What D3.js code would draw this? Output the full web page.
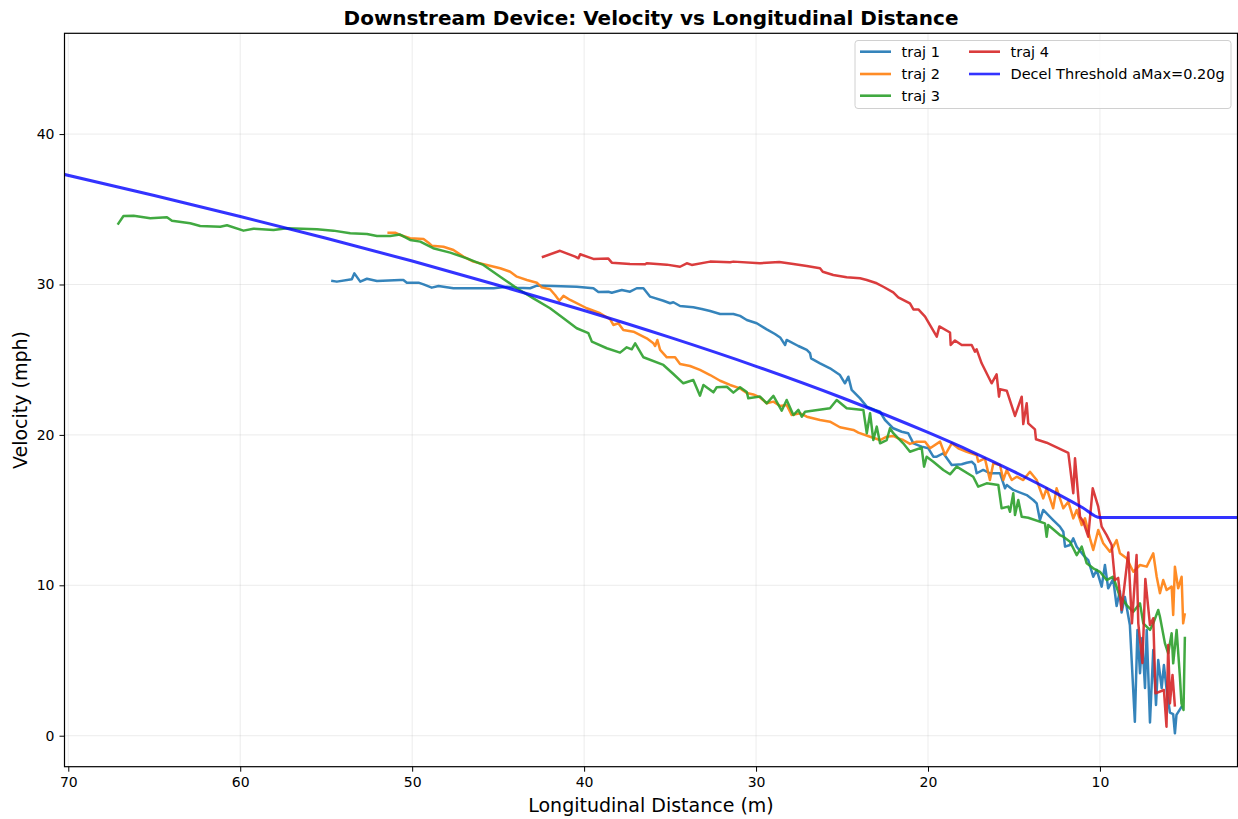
<!DOCTYPE html>
<html>
<head>
<meta charset="utf-8">
<script src="https://cdn.jsdelivr.net/npm/d3@7"></script>
<style>
  html, body { margin: 0; padding: 0; background: #fff; }
  svg text { font-family: "DejaVu Sans", sans-serif; fill: #000; }
</style>
</head>
<body>
<svg id="chart" width="1238" height="819"></svg>
<script>
// ---- data: [longitudinal distance (m), velocity (mph)] ----
const traj1 = [[54.71,30.25],[54.38,30.19],[53.51,30.35],[53.36,30.74],[53.02,30.19],[52.63,30.38],[52.05,30.23],[50.70,30.30],[50.51,30.30],[50.31,30.12],[49.63,30.12],[49.34,30.01],[48.86,29.79],[48.47,29.90],[47.60,29.75],[46.82,29.75],[45.27,29.75],[44.49,29.85],[43.91,29.79],[43.14,29.75],[42.75,29.93],[41.78,29.90],[40.43,29.85],[39.46,29.75],[39.17,29.50],[38.59,29.52],[38.39,29.45],[37.81,29.63],[37.33,29.52],[36.94,29.75],[36.55,29.75],[36.16,29.19],[35.39,28.92],[35.00,28.75],[34.81,28.82],[34.42,28.57],[33.65,28.48],[33.16,28.37],[32.67,28.24],[32.09,28.04],[31.32,28.04],[30.93,27.91],[30.54,27.64],[29.96,27.42],[29.38,27.02],[28.90,26.71],[28.60,26.48],[28.31,25.98],[28.22,26.31],[27.54,25.91],[27.05,25.65],[26.86,25.43],[26.80,25.09],[26.28,24.76],[25.70,24.43],[25.12,23.98],[24.83,23.43],[24.63,23.87],[24.44,22.99],[23.95,22.43],[23.56,21.88],[23.08,21.66],[22.79,21.54],[22.50,20.99],[22.02,20.44],[21.53,20.21],[21.15,20.11],[20.85,19.44],[20.37,19.22],[19.98,19.11],[19.69,18.55],[19.49,18.55],[19.11,18.78],[18.62,18.00],[18.04,18.05],[17.75,18.15],[17.46,18.22],[17.27,18.00],[17.17,17.45],[16.79,17.67],[16.40,17.45],[15.81,17.45],[15.52,16.45],[15.42,16.67],[15.04,16.34],[14.26,16.00],[13.88,15.67],[13.68,15.45],[13.49,14.34],[13.30,15.01],[12.72,14.34],[12.33,13.90],[12.13,13.56],[12.03,12.57],[11.74,12.68],[11.55,13.12],[11.35,12.57],[10.97,12.01],[10.68,11.68],[10.39,10.57],[10.19,11.02],[9.90,9.91],[9.71,11.35],[9.52,9.80],[9.23,10.42],[9.03,8.62],[8.84,9.62],[8.74,8.19],[8.55,9.22],[8.26,7.36],[7.97,0.93],[7.82,7.03],[7.67,4.15],[7.54,6.50],[7.38,3.17],[7.28,7.03],[7.09,0.88],[6.90,5.70],[6.74,2.04],[6.61,5.03],[6.41,3.17],[6.28,4.70],[6.12,3.04],[5.93,1.54],[5.74,1.44],[5.64,0.16],[5.55,1.38],[5.23,1.97]];

const traj2 = [[51.44,33.44],[50.99,33.44],[50.70,33.29],[50.12,33.07],[49.34,33.03],[49.05,32.78],[48.86,32.58],[48.18,32.51],[47.60,32.29],[47.02,31.85],[46.44,31.52],[45.66,31.30],[44.88,31.08],[44.30,30.85],[43.91,30.52],[43.33,30.30],[42.75,30.12],[42.46,29.81],[41.98,29.68],[41.69,29.30],[41.44,28.92],[41.20,29.24],[40.81,28.97],[39.84,28.42],[39.07,28.09],[38.49,27.69],[38.30,27.31],[38.01,27.42],[37.72,26.97],[37.13,26.86],[36.36,26.42],[35.97,26.09],[35.87,25.91],[35.74,26.31],[35.58,25.65],[35.19,25.16],[34.71,25.16],[34.42,24.71],[33.84,24.58],[33.26,24.32],[32.67,23.98],[32.09,23.60],[31.51,23.32],[30.93,23.09],[30.54,22.79],[30.16,22.69],[29.77,22.49],[29.38,22.10],[28.99,22.21],[28.60,21.92],[28.22,21.99],[27.93,21.32],[27.44,21.44],[27.05,21.21],[26.28,20.99],[25.70,20.88],[25.12,20.51],[24.34,20.33],[24.05,20.15],[23.37,19.88],[22.79,19.66],[22.40,19.88],[22.02,19.93],[21.73,19.77],[21.44,19.66],[21.05,19.40],[20.66,19.55],[20.17,19.55],[19.88,19.11],[19.30,19.55],[19.01,18.66],[18.62,19.44],[18.24,19.11],[17.75,18.88],[17.17,18.66],[17.08,18.22],[16.69,18.44],[16.40,17.00],[16.20,18.11],[15.81,18.00],[15.62,17.00],[15.42,17.67],[15.13,17.00],[14.84,17.22],[14.46,17.00],[14.07,17.55],[13.68,17.00],[13.30,15.78],[13.10,16.45],[12.72,15.12],[12.52,16.45],[12.13,15.12],[11.84,15.56],[11.55,14.45],[11.35,15.01],[11.06,14.01],[10.87,14.45],[10.58,13.12],[10.39,12.35],[10.10,13.68],[9.81,12.79],[9.42,12.23],[9.23,12.57],[9.03,13.01],[8.84,12.13],[8.45,11.80],[8.06,10.90],[7.67,11.35],[7.28,11.24],[6.90,12.13],[6.70,10.57],[6.51,9.47],[6.32,10.35],[6.12,9.69],[5.83,9.91],[5.74,8.03],[5.64,11.24],[5.45,9.80],[5.25,10.57],[5.16,7.47],[5.06,8.14]];

const traj3 = [[67.13,33.98],[66.79,34.55],[66.20,34.57],[65.23,34.40],[64.26,34.47],[63.97,34.24],[62.91,34.07],[62.33,33.89],[61.16,33.84],[60.77,33.94],[59.81,33.58],[59.23,33.71],[58.06,33.62],[57.29,33.74],[55.54,33.67],[54.58,33.58],[53.60,33.40],[52.63,33.36],[52.05,33.22],[51.28,33.22],[50.70,33.32],[50.12,32.96],[49.53,32.85],[48.78,32.41],[47.79,32.12],[46.82,31.74],[45.86,31.30],[44.88,30.52],[43.91,29.75],[42.95,29.08],[41.98,28.42],[41.20,27.75],[40.43,27.09],[39.75,26.76],[39.55,26.20],[38.68,25.76],[37.91,25.47],[37.52,25.82],[37.23,25.69],[37.03,26.09],[36.55,25.16],[35.39,24.65],[34.81,24.05],[34.23,23.43],[33.65,23.65],[33.26,22.61],[33.06,23.32],[32.48,22.83],[32.29,23.17],[31.70,23.20],[31.32,22.81],[30.93,23.17],[30.54,22.85],[30.45,22.43],[29.77,22.55],[29.38,22.10],[28.99,22.59],[28.51,21.61],[28.22,22.32],[27.83,21.32],[27.54,21.66],[27.34,21.21],[27.15,21.54],[25.70,21.77],[25.31,22.32],[24.73,21.77],[23.76,21.66],[23.56,20.11],[23.37,21.44],[23.18,19.66],[22.98,20.55],[22.79,19.44],[22.40,19.66],[22.21,20.44],[22.02,20.11],[21.44,19.44],[21.05,18.88],[20.37,19.15],[20.23,17.89],[20.08,18.55],[19.69,18.22],[19.11,17.67],[18.72,17.38],[18.33,17.89],[17.37,17.22],[17.08,16.56],[16.59,16.78],[15.91,16.67],[15.72,15.12],[15.33,15.23],[15.23,14.89],[15.04,16.12],[14.94,14.67],[14.75,15.67],[14.55,14.56],[14.17,14.49],[13.20,14.12],[13.10,13.23],[13.01,14.01],[12.33,13.34],[12.13,13.23],[11.74,12.90],[11.35,12.01],[11.06,12.57],[10.77,11.46],[10.39,11.13],[10.00,10.90],[9.61,10.35],[9.23,10.57],[8.84,9.24],[8.65,9.02],[8.45,8.69],[8.06,8.24],[7.67,8.80],[7.48,7.47],[7.09,7.03],[6.90,7.47],[6.61,8.36],[6.51,7.91],[6.22,6.14],[6.03,5.48],[5.83,6.81],[5.74,4.81],[5.54,7.03],[5.35,3.92],[5.26,2.15],[5.14,1.71],[5.06,6.58]];

const traj4 = [[42.46,31.81],[41.40,32.24],[40.52,31.85],[40.33,31.74],[40.23,32.01],[39.46,31.70],[38.59,31.72],[38.39,31.45],[37.33,31.36],[36.45,31.34],[36.36,31.41],[35.19,31.32],[34.42,31.18],[34.03,31.41],[33.74,31.30],[32.67,31.52],[31.51,31.48],[31.32,31.52],[29.77,31.41],[29.38,31.45],[28.65,31.50],[27.83,31.36],[27.05,31.23],[26.28,31.08],[26.12,30.85],[25.51,30.63],[24.73,30.48],[23.95,30.41],[23.56,30.30],[22.98,30.08],[22.60,29.85],[22.02,29.48],[21.73,29.15],[21.05,28.74],[20.85,28.34],[20.56,28.34],[20.17,27.86],[19.49,26.53],[19.34,27.21],[18.72,26.81],[18.68,25.98],[18.43,26.28],[18.04,25.98],[17.46,25.98],[17.27,25.53],[17.17,25.69],[16.88,24.76],[16.30,23.43],[16.01,24.03],[15.87,22.54],[15.81,23.03],[15.42,22.94],[14.94,21.26],[14.55,22.54],[14.46,20.72],[14.26,22.10],[14.17,20.77],[13.78,20.37],[13.72,19.71],[13.10,19.48],[11.84,18.80],[11.55,16.12],[11.45,18.44],[11.16,14.56],[10.97,14.23],[10.68,13.23],[10.42,16.45],[10.10,15.23],[9.90,13.90],[9.61,13.34],[9.32,12.68],[9.13,10.35],[8.94,10.49],[8.74,8.36],[8.35,12.18],[8.14,7.47],[7.87,12.01],[7.77,7.47],[7.53,4.83],[7.36,10.42],[7.09,7.36],[6.90,7.81],[6.77,2.82],[6.28,3.04],[6.13,0.60],[6.03,6.03],[5.93,2.15],[5.78,4.04],[5.64,1.93]];

// deceleration threshold (aMax = 0.20g), floor of 14.5 mph inside 10 m
const thresholdDist  = [70.5, 65, 60, 55, 50, 45, 40, 35, 30, 25, 20, 17.5, 15, 12.5, 11, 10, 2];
const thresholdSpeed = [37.39, 35.92, 34.52, 33.07, 31.56, 29.95, 28.27, 26.48, 24.56, 22.47, 20.16, 18.91, 17.56, 16.10, 15.16, 14.5, 14.5];

const seriesNames  = ["traj 1", "traj 2", "traj 3", "traj 4"];
const seriesColors = ["#1f77b4", "#ff7f0e", "#2ca02c", "#d62728"];
const thresholdLabel = "Decel Threshold aMax=0.20g";

const xTicks = [70, 60, 50, 40, 30, 20, 10];
const yTicks = [0, 10, 20, 30, 40];

// ---- layout ----
const svg = d3.select("#chart");
const plot = { left: 64.5, right: 1237.5, top: 33.3, bottom: 766.7 };

const x = d3.scaleLinear().domain([70.22, 2.0]).range([plot.left, plot.right]);
const y = d3.scaleLinear().domain([-2.06, 46.7]).range([plot.bottom, plot.top]);

svg.append("defs").append("clipPath").attr("id", "plot-clip")
  .append("rect")
  .attr("x", plot.left).attr("y", plot.top)
  .attr("width", plot.right - plot.left).attr("height", plot.bottom - plot.top);

// grid
const grid = svg.append("g");
grid.selectAll(".gx").data(xTicks).join("line")
  .attr("x1", d => x(d)).attr("x2", d => x(d))
  .attr("y1", plot.top).attr("y2", plot.bottom)
  .attr("stroke", "#b0b0b0").attr("stroke-opacity", 0.3).attr("stroke-width", 0.8);
grid.selectAll(".gy").data(yTicks).join("line")
  .attr("y1", d => y(d)).attr("y2", d => y(d))
  .attr("x1", plot.left).attr("x2", plot.right)
  .attr("stroke", "#b0b0b0").attr("stroke-opacity", 0.3).attr("stroke-width", 0.8);

// lines
const lineGen = d3.line().x(d => x(d[0])).y(d => y(d[1]));
const lines = svg.append("g").attr("clip-path", "url(#plot-clip)");
[traj1, traj2, traj3, traj4].forEach((pts, i) => {
  lines.append("path")
    .attr("d", lineGen(pts))
    .attr("fill", "none")
    .attr("stroke", seriesColors[i])
    .attr("stroke-opacity", 0.9)
    .attr("stroke-width", 2.5)
    .attr("stroke-linejoin", "round")
    .attr("stroke-linecap", "butt");
});

const thresholdPts = thresholdDist.map((d, i) => [d, thresholdSpeed[i]]);
lines.append("path")
  .attr("d", d3.line().x(d => x(d[0])).y(d => y(d[1])).curve(d3.curveMonotoneX)(thresholdPts))
  .attr("fill", "none")
  .attr("stroke", "#0000ff")
  .attr("stroke-opacity", 0.8)
  .attr("stroke-width", 3);

// axes
const xAxis = d3.axisBottom(x).tickValues(xTicks).tickSize(5).tickPadding(5);
const yAxis = d3.axisLeft(y).tickValues(yTicks).tickSize(5).tickPadding(5);

const gx = svg.append("g").attr("transform", `translate(0,${plot.bottom})`).call(xAxis);
const gy = svg.append("g").attr("transform", `translate(${plot.left},0)`).call(yAxis);
[gx, gy].forEach(g => {
  g.select(".domain").remove();
  g.selectAll(".tick line").attr("stroke", "#000").attr("stroke-width", 1);
  g.selectAll(".tick text").attr("font-size", 14).attr("fill", "#000");
});

// frame
svg.append("rect")
  .attr("x", plot.left).attr("y", plot.top)
  .attr("width", plot.right - plot.left).attr("height", plot.bottom - plot.top)
  .attr("fill", "none").attr("stroke", "#000").attr("stroke-width", 1.2);

// titles
svg.append("text")
  .attr("x", (plot.left + plot.right) / 2).attr("y", 25)
  .attr("text-anchor", "middle").attr("font-size", 20).attr("font-weight", "bold")
  .text("Downstream Device: Velocity vs Longitudinal Distance");
svg.append("text")
  .attr("x", (plot.left + plot.right) / 2).attr("y", 812)
  .attr("text-anchor", "middle").attr("font-size", 19)
  .text("Longitudinal Distance (m)");
svg.append("text")
  .attr("transform", `translate(27,${(plot.top + plot.bottom) / 2}) rotate(-90)`)
  .attr("text-anchor", "middle").attr("font-size", 19)
  .text("Velocity (mph)");

// legend
const legend = svg.append("g");
legend.append("rect")
  .attr("x", 855).attr("y", 40.5).attr("width", 376).attr("height", 68)
  .attr("rx", 3).attr("fill", "#fff").attr("fill-opacity", 0.8)
  .attr("stroke", "#d0d0d0").attr("stroke-width", 1);

const legendItems = [
  { label: seriesNames[0], color: seriesColors[0], op: 0.9, col: 0, row: 0 },
  { label: seriesNames[1], color: seriesColors[1], op: 0.9, col: 0, row: 1 },
  { label: seriesNames[2], color: seriesColors[2], op: 0.9, col: 0, row: 2 },
  { label: seriesNames[3], color: seriesColors[3], op: 0.9, col: 1, row: 0 },
  { label: thresholdLabel, color: "#0000ff", op: 0.8, col: 1, row: 1 }
];
const colX = [860, 969];
const rowY = [51.7, 74, 95.7];
legendItems.forEach(it => {
  const lx = colX[it.col], ly = rowY[it.row];
  legend.append("line")
    .attr("x1", lx).attr("x2", lx + 31).attr("y1", ly).attr("y2", ly)
    .attr("stroke", it.color).attr("stroke-opacity", it.op).attr("stroke-width", 2.6);
  legend.append("text")
    .attr("x", lx + 41.5).attr("y", ly).attr("dy", "0.35em")
    .attr("font-size", 14.5).text(it.label);
});
</script>
</body>
</html>
